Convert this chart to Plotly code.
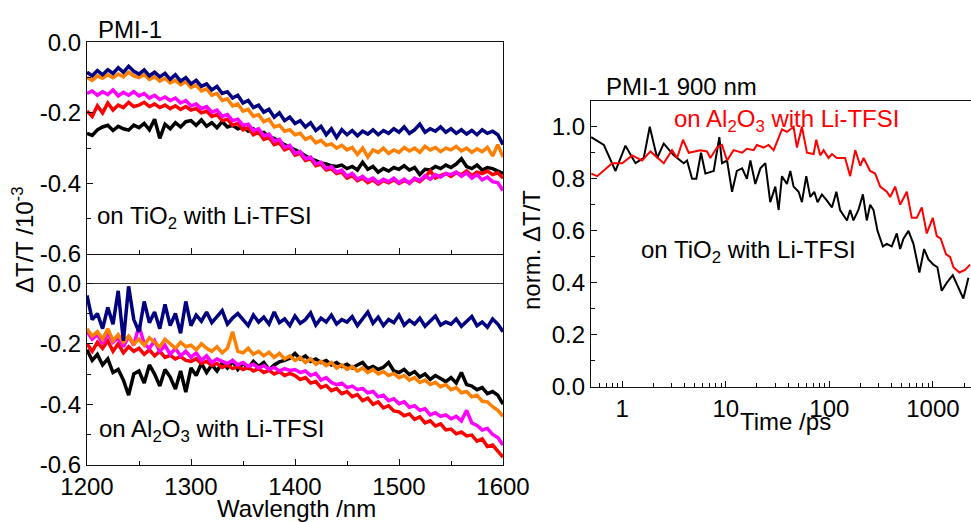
import plotly.graph_objects as go

# ---------------- data ----------------
wavelength = list(range(1200, 1601, 5))

# top panel: on TiO2 with Li-TFSI
tio2_navy = [
    -0.085, -0.095, -0.080, -0.092, -0.078, -0.088, -0.072, -0.085, -0.068, -0.082,
    -0.090, -0.078, -0.095, -0.085, -0.098, -0.088, -0.105, -0.092, -0.110, -0.100,
    -0.118, -0.108, -0.125, -0.118, -0.135, -0.125, -0.145, -0.140, -0.158, -0.150,
    -0.172, -0.165, -0.185, -0.178, -0.198, -0.190, -0.212, -0.200, -0.222, -0.212,
    -0.230, -0.222, -0.240, -0.228, -0.250, -0.238, -0.262, -0.245, -0.270, -0.248,
    -0.262, -0.250, -0.265, -0.252, -0.260, -0.248, -0.262, -0.250, -0.258, -0.245,
    -0.255, -0.240, -0.258, -0.248, -0.232, -0.255, -0.245, -0.252, -0.240, -0.255,
    -0.245, -0.258, -0.248, -0.260, -0.250, -0.262, -0.248, -0.258, -0.252, -0.262,
    -0.290]
tio2_orange = [
    -0.100, -0.108, -0.095, -0.102, -0.092, -0.100, -0.090, -0.098, -0.085, -0.095,
    -0.100, -0.092, -0.105, -0.098, -0.110, -0.102, -0.115, -0.108, -0.120, -0.112,
    -0.128, -0.122, -0.138, -0.132, -0.150, -0.145, -0.165, -0.160, -0.180, -0.175,
    -0.195, -0.190, -0.210, -0.205, -0.225, -0.218, -0.240, -0.235, -0.252, -0.248,
    -0.262, -0.258, -0.275, -0.268, -0.285, -0.278, -0.292, -0.288, -0.300, -0.292,
    -0.305, -0.298, -0.318, -0.300, -0.325, -0.305, -0.312, -0.300, -0.315, -0.305,
    -0.312, -0.298, -0.308, -0.300, -0.312, -0.295, -0.305, -0.298, -0.310, -0.300,
    -0.305, -0.295, -0.308, -0.300, -0.312, -0.302, -0.310, -0.298, -0.322, -0.290,
    -0.325]
tio2_magenta = [
    -0.145, -0.138, -0.150, -0.140, -0.148, -0.135, -0.152, -0.142, -0.150, -0.140,
    -0.152, -0.145, -0.158, -0.150, -0.162, -0.155, -0.165, -0.158, -0.172, -0.165,
    -0.180, -0.175, -0.188, -0.182, -0.198, -0.192, -0.210, -0.205, -0.222, -0.218,
    -0.235, -0.232, -0.250, -0.245, -0.265, -0.260, -0.280, -0.275, -0.298, -0.292,
    -0.315, -0.310, -0.330, -0.325, -0.345, -0.340, -0.358, -0.352, -0.368, -0.362,
    -0.380, -0.372, -0.388, -0.380, -0.392, -0.385, -0.398, -0.388, -0.395, -0.385,
    -0.398, -0.388, -0.400, -0.385, -0.392, -0.378, -0.388, -0.375, -0.382, -0.372,
    -0.375, -0.368, -0.380, -0.370, -0.385, -0.375, -0.390, -0.382, -0.395, -0.398,
    -0.420]
tio2_red = [
    -0.195, -0.210, -0.180, -0.200, -0.172, -0.192, -0.178, -0.185, -0.170, -0.182,
    -0.178, -0.170, -0.182, -0.175, -0.185, -0.178, -0.188, -0.180, -0.190, -0.182,
    -0.192, -0.188, -0.200, -0.195, -0.210, -0.205, -0.222, -0.218, -0.235, -0.230,
    -0.248, -0.242, -0.262, -0.255, -0.275, -0.270, -0.290, -0.285, -0.305, -0.298,
    -0.320, -0.315, -0.335, -0.330, -0.350, -0.345, -0.362, -0.358, -0.372, -0.368,
    -0.385, -0.378, -0.392, -0.385, -0.398, -0.390, -0.402, -0.392, -0.398, -0.390,
    -0.400, -0.392, -0.398, -0.388, -0.395, -0.382, -0.365, -0.385, -0.378, -0.372,
    -0.380, -0.370, -0.375, -0.365, -0.378, -0.368, -0.372, -0.365, -0.375, -0.370,
    -0.385]
tio2_black = [
    -0.258, -0.264, -0.248, -0.240, -0.235, -0.250, -0.238, -0.245, -0.249, -0.235,
    -0.242, -0.230, -0.248, -0.218, -0.272, -0.232, -0.245, -0.228, -0.240, -0.225,
    -0.222, -0.235, -0.220, -0.238, -0.228, -0.242, -0.225, -0.240, -0.235, -0.245,
    -0.240, -0.252, -0.245, -0.258, -0.255, -0.268, -0.272, -0.282, -0.290, -0.298,
    -0.305, -0.312, -0.322, -0.330, -0.335, -0.342, -0.345, -0.350, -0.352, -0.348,
    -0.358, -0.352, -0.362, -0.340, -0.360, -0.352, -0.368, -0.358, -0.365, -0.355,
    -0.360, -0.350, -0.362, -0.355, -0.375, -0.360, -0.362, -0.352, -0.358, -0.348,
    -0.355, -0.345, -0.330, -0.352, -0.358, -0.348, -0.362, -0.355, -0.358, -0.365,
    -0.372]

# bottom panel: on Al2O3 with Li-TFSI
al_navy = [
    -0.040, -0.120, -0.100, -0.150, -0.080, -0.135, -0.025, -0.190, -0.010, -0.120,
    -0.160, -0.060, -0.130, -0.095, -0.150, -0.070, -0.140, -0.100, -0.165, -0.060,
    -0.140, -0.105, -0.125, -0.095, -0.130, -0.110, -0.090, -0.135, -0.115, -0.100,
    -0.120, -0.140, -0.105, -0.128, -0.112, -0.135, -0.095, -0.130, -0.118, -0.140,
    -0.108, -0.132, -0.120, -0.098, -0.138, -0.115, -0.128, -0.105, -0.135, -0.120,
    -0.128, -0.110, -0.140, -0.118, -0.095, -0.132, -0.112, -0.140, -0.120, -0.130,
    -0.105, -0.138, -0.122, -0.135, -0.115, -0.142, -0.125, -0.108, -0.138, -0.128,
    -0.135, -0.118, -0.142, -0.125, -0.110, -0.140, -0.128, -0.145, -0.118, -0.135,
    -0.160]
al_orange = [
    -0.150, -0.175, -0.160, -0.185, -0.150, -0.190, -0.170, -0.195, -0.175, -0.200,
    -0.185, -0.205, -0.180, -0.195, -0.210, -0.185, -0.200, -0.215, -0.195, -0.210,
    -0.205, -0.220, -0.200, -0.215, -0.225, -0.210, -0.230, -0.215, -0.160, -0.225,
    -0.230, -0.215, -0.235, -0.225, -0.240, -0.228, -0.245, -0.232, -0.250, -0.240,
    -0.255, -0.245, -0.262, -0.250, -0.268, -0.258, -0.272, -0.262, -0.280, -0.270,
    -0.285, -0.275, -0.290, -0.280, -0.295, -0.285, -0.300, -0.292, -0.305, -0.298,
    -0.312, -0.305, -0.320, -0.312, -0.328, -0.320, -0.335, -0.328, -0.342, -0.335,
    -0.352, -0.345, -0.362, -0.358, -0.375, -0.370, -0.390, -0.392, -0.408, -0.420,
    -0.440]
al_magenta = [
    -0.160, -0.185, -0.170, -0.200, -0.165, -0.195, -0.180, -0.210, -0.175, -0.205,
    -0.140, -0.200, -0.215, -0.190, -0.225, -0.205, -0.235, -0.215, -0.240, -0.225,
    -0.245, -0.230, -0.255, -0.240, -0.262, -0.250, -0.258, -0.265, -0.255, -0.270,
    -0.262, -0.275, -0.268, -0.280, -0.272, -0.285, -0.278, -0.290, -0.282, -0.288,
    -0.285, -0.295, -0.290, -0.305, -0.298, -0.320, -0.312, -0.328, -0.335, -0.330,
    -0.345, -0.340, -0.352, -0.348, -0.362, -0.358, -0.375, -0.370, -0.388, -0.382,
    -0.398, -0.392, -0.410, -0.405, -0.420, -0.415, -0.435, -0.428, -0.440, -0.435,
    -0.448, -0.440, -0.455, -0.420, -0.462, -0.470, -0.485, -0.480, -0.500, -0.510,
    -0.535]
al_red = [
    -0.200, -0.225, -0.195, -0.215, -0.190, -0.225, -0.200, -0.230, -0.210, -0.225,
    -0.215, -0.235, -0.220, -0.240, -0.225, -0.245, -0.238, -0.250, -0.242, -0.255,
    -0.258, -0.250, -0.265, -0.258, -0.272, -0.265, -0.278, -0.270, -0.282, -0.275,
    -0.285, -0.278, -0.290, -0.282, -0.295, -0.288, -0.300, -0.292, -0.305, -0.298,
    -0.305, -0.318, -0.312, -0.330, -0.325, -0.345, -0.338, -0.355, -0.348, -0.365,
    -0.358, -0.375, -0.368, -0.388, -0.380, -0.400, -0.392, -0.412, -0.405, -0.422,
    -0.425, -0.438, -0.432, -0.450, -0.442, -0.462, -0.455, -0.472, -0.465, -0.485,
    -0.482, -0.498, -0.492, -0.505, -0.502, -0.522, -0.515, -0.540, -0.535, -0.555,
    -0.575]
al_black = [
    -0.220, -0.255, -0.235, -0.270, -0.250, -0.295, -0.285, -0.320, -0.370, -0.300,
    -0.290, -0.330, -0.270, -0.300, -0.340, -0.285, -0.310, -0.350, -0.290, -0.360,
    -0.280, -0.305, -0.265, -0.295, -0.270, -0.290, -0.262, -0.280, -0.258, -0.285,
    -0.265, -0.280, -0.258, -0.275, -0.262, -0.285, -0.270, -0.260, -0.255, -0.248,
    -0.232, -0.250, -0.240, -0.258, -0.250, -0.262, -0.255, -0.270, -0.262, -0.275,
    -0.268, -0.280, -0.270, -0.262, -0.282, -0.275, -0.285, -0.278, -0.262, -0.290,
    -0.295, -0.285, -0.302, -0.292, -0.310, -0.300, -0.318, -0.305, -0.315, -0.325,
    -0.312, -0.330, -0.295, -0.335, -0.340, -0.352, -0.345, -0.365, -0.358, -0.370,
    -0.400]

# right panel: kinetics at 900 nm
time_tio2 = [0.502, 0.665, 0.862, 1.076, 1.344, 1.617, 1.846, 2.175, 2.52, 3.15,
             3.93, 4.23, 4.73, 5.2, 5.77, 6.36, 7.65, 8.67, 9.2, 10.3,
             11.5, 12.8, 14.4, 16.0, 17.3, 19.3, 21.6, 24.1, 26.9, 30.1,
             32.4, 34.9, 39.0, 42.0, 45.2, 50.5, 54.4, 59.9, 65.5, 71.5,
             77.0, 84.8, 93.3, 106, 117, 127, 148, 159, 171, 191,
             211, 230, 248, 267, 292, 329, 359, 401, 448, 483,
             520, 581, 649, 741, 823, 906, 1012, 1106, 1217, 1360,
             1555, 1969, 2203]
dtt_tio2 = [0.96, 0.93, 0.83, 0.927, 0.86, 0.88, 1.00, 0.88, 0.935, 0.89,
            0.86, 0.87, 0.80, 0.80, 0.90, 0.82, 0.83, 0.96, 0.86, 0.87,
            0.75, 0.83, 0.84, 0.80, 0.87, 0.78, 0.84, 0.86, 0.71, 0.77,
            0.68, 0.81, 0.78, 0.83, 0.77, 0.75, 0.71, 0.81, 0.73, 0.75,
            0.71, 0.74, 0.72, 0.69, 0.75, 0.68, 0.64, 0.68, 0.64, 0.68,
            0.74, 0.64, 0.70, 0.68, 0.60, 0.54, 0.55, 0.54, 0.59, 0.53,
            0.57, 0.60, 0.55, 0.44, 0.53, 0.49, 0.47, 0.46, 0.37, 0.40,
            0.43, 0.34, 0.42]
time_al = [0.502, 0.574, 0.80, 1.0, 1.248, 1.559, 1.875, 2.52, 3.03, 3.39,
           3.87, 4.39, 5.69, 6.6, 7.1, 8.24, 9.2, 10.3, 11.9, 14.4,
           16.0, 18.6, 20.0, 23.2, 25.9, 29.0, 34.9, 39.0, 45.2, 48.7,
           54.4, 60.8, 70.5, 74.8, 81.7, 88.0, 98.3, 106, 118, 142,
           159, 178, 199, 214, 248, 277, 310, 359, 387, 432,
           483, 560, 625, 699, 781, 873, 997, 1090, 1191, 1340,
           1465, 1578, 1803, 2044, 2286]
dtt_al = [0.82, 0.81, 0.86, 0.86, 0.89, 0.87, 0.905, 0.86, 0.91, 0.88,
          0.95, 0.90, 0.91, 0.905, 0.88, 0.92, 0.93, 0.87, 0.91, 0.90,
          0.915, 0.91, 0.93, 0.92, 0.93, 0.91, 0.99, 0.98, 1.00, 0.92,
          1.00, 0.90, 0.895, 0.95, 0.89, 0.91, 0.88, 0.895, 0.88, 0.88,
          0.81, 0.91, 0.85, 0.88, 0.83, 0.82, 0.77, 0.75, 0.73, 0.77,
          0.70, 0.75, 0.65, 0.65, 0.69, 0.59, 0.65, 0.58, 0.57, 0.51,
          0.50, 0.46, 0.44, 0.45, 0.47]

left_ytickvals = [-0.6, -0.4, -0.2, 0.0]
left_yticktext = ["-0.6", "-0.4", "-0.2", "0.0"]
wl_tickvals = [1200, 1300, 1400, 1500, 1600]
time_tickvals = [1, 10, 100, 1000]
time_ticktext = ["1", "10", "100", "1000"]
time_minor = [0.6, 0.7, 0.8, 0.9, 2, 3, 4, 5, 6, 7, 8, 9, 20, 30, 40, 50, 60, 70, 80, 90,
              200, 300, 400, 500, 600, 700, 800, 900, 2000]
right_ytickvals = [0.0, 0.2, 0.4, 0.6, 0.8, 1.0]
right_yticktext = ["0.0", "0.2", "0.4", "0.6", "0.8", "1.0"]

NAVY = "#000080"
ORANGE = "#FF8000"
MAGENTA = "#FF00FF"
RED = "#FF0000"
BLACK = "#000000"

W, H = 971, 522
FONT = "Liberation Sans, Arial, sans-serif"
FS = 24


def px(x):
    return x / W


def py(y):
    return 1 - y / H


fig = go.Figure()

top_series = [(tio2_black, BLACK), (tio2_red, RED), (tio2_magenta, MAGENTA),
              (tio2_orange, ORANGE), (tio2_navy, NAVY)]
for ys, c in top_series:
    fig.add_trace(go.Scatter(x=wavelength, y=ys, mode="lines", xaxis="x", yaxis="y",
                             line=dict(color=c, width=3.5), showlegend=False))

bottom_series = [(al_black, BLACK), (al_red, RED), (al_magenta, MAGENTA),
                 (al_orange, ORANGE), (al_navy, NAVY)]
for ys, c in bottom_series:
    fig.add_trace(go.Scatter(x=wavelength, y=ys, mode="lines", xaxis="x2", yaxis="y2",
                             line=dict(color=c, width=3.5), showlegend=False))

fig.add_trace(go.Scatter(x=time_tio2, y=dtt_tio2, mode="lines", xaxis="x3", yaxis="y3",
                         line=dict(color=BLACK, width=2), showlegend=False))
fig.add_trace(go.Scatter(x=time_al, y=dtt_al, mode="lines", xaxis="x3", yaxis="y3",
                         line=dict(color=RED, width=2), showlegend=False))

axis_common = dict(showline=True, linecolor="#111", linewidth=1.3, showgrid=False,
                   automargin=False,
                   ticks="inside", ticklen=6, tickwidth=1.2, tickcolor="#111",
                   tickfont=dict(family=FONT, size=FS, color="black"))

left_dom = [px(87), px(503)]
fig.update_layout(
    width=W, height=H,
    margin=dict(l=0, r=0, t=0, b=0),
    paper_bgcolor="white", plot_bgcolor="white",
    xaxis=dict(domain=left_dom, anchor="y", range=[1200, 1600], tickvals=wl_tickvals,
               showticklabels=False, mirror=True, zeroline=False,
               minor=dict(ticks="inside", ticklen=4, dtick=50, tick0=1200, tickcolor="#111"),
               **axis_common),
    yaxis=dict(domain=[py(254), py(42.3)], anchor="x", range=[-0.6, 0.0],
               tickvals=left_ytickvals, ticktext=left_yticktext, mirror=True, zeroline=False,
               minor=dict(ticks="inside", ticklen=4, dtick=0.1, tick0=0, tickcolor="#111"),
               **axis_common),
    xaxis2=dict(domain=left_dom, anchor="y2", range=[1200, 1600], tickvals=wl_tickvals,
                mirror=False, zeroline=False,
                minor=dict(ticks="inside", ticklen=4, dtick=50, tick0=1200, tickcolor="#111"),
                **axis_common),
    yaxis2=dict(domain=[py(464.7), py(254)], anchor="x2", range=[-0.6, 0.097],
                tickvals=left_ytickvals, ticktext=left_yticktext, mirror=True,
                zeroline=True, zerolinecolor="#333", zerolinewidth=1,
                minor=dict(ticks="inside", ticklen=4, dtick=0.1, tick0=0, tickcolor="#111"),
                **axis_common),
    xaxis3=dict(domain=[px(591), 1.0], anchor="y3", type="log", range=[-0.301, 3.368],
                tickvals=time_tickvals, ticktext=time_ticktext, mirror=True, zeroline=False,
                minor=dict(ticks="inside", ticklen=4, tickvals=time_minor, tickcolor="#111"),
                **axis_common),
    yaxis3=dict(domain=[py(387), py(100.7)], anchor="x3", range=[0, 1.1],
                tickvals=right_ytickvals, ticktext=right_yticktext, mirror=False, zeroline=False,
                minor=dict(ticks="inside", ticklen=4, dtick=0.1, tick0=0, tickcolor="#111"),
                **axis_common),
)

ann_font = dict(family=FONT, size=FS, color="black")
annotations = [
    dict(text="PMI-1", x=px(96), y=py(29), xanchor="left", yanchor="middle", font=ann_font),
    dict(text="on TiO<sub>2</sub> with Li-TFSI", x=px(95), y=py(218), xanchor="left",
         yanchor="middle", font=ann_font),
    dict(text="on Al<sub>2</sub>O<sub>3</sub> with Li-TFSI", x=px(97), y=py(430), xanchor="left",
         yanchor="middle", font=ann_font),
    dict(text="Wavlength /nm", x=px(296), y=py(508), xanchor="center", yanchor="middle",
         font=ann_font),
    dict(text="ΔT/T /10<sup>-3</sup>", x=px(23), y=py(240), xanchor="center", yanchor="middle",
         textangle=-90, font=ann_font),
    dict(text="PMI-1 900 nm", x=px(604), y=py(86), xanchor="left", yanchor="middle",
         font=ann_font),
    dict(text="on Al<sub>2</sub>O<sub>3</sub> with Li-TFSI", x=px(672), y=py(121),
         xanchor="left", yanchor="middle", font=dict(family=FONT, size=FS, color=RED)),
    dict(text="on TiO<sub>2</sub> with Li-TFSI", x=px(639), y=py(251), xanchor="left",
         yanchor="middle", font=ann_font),
    dict(text="norm. ΔT/T", x=px(531), y=py(250), xanchor="center", yanchor="middle",
         textangle=-90, font=ann_font),
    dict(text="Time /ps", x=px(785), y=py(421), xanchor="center", yanchor="middle",
         font=ann_font),
]
for a in annotations:
    a.update(xref="paper", yref="paper", showarrow=False)
fig.update_layout(annotations=annotations)

fig.write_html("out.html",
               config={"displayModeBar": False},
               post_script="document.body.style.margin='0';document.body.style.overflow='hidden';")
